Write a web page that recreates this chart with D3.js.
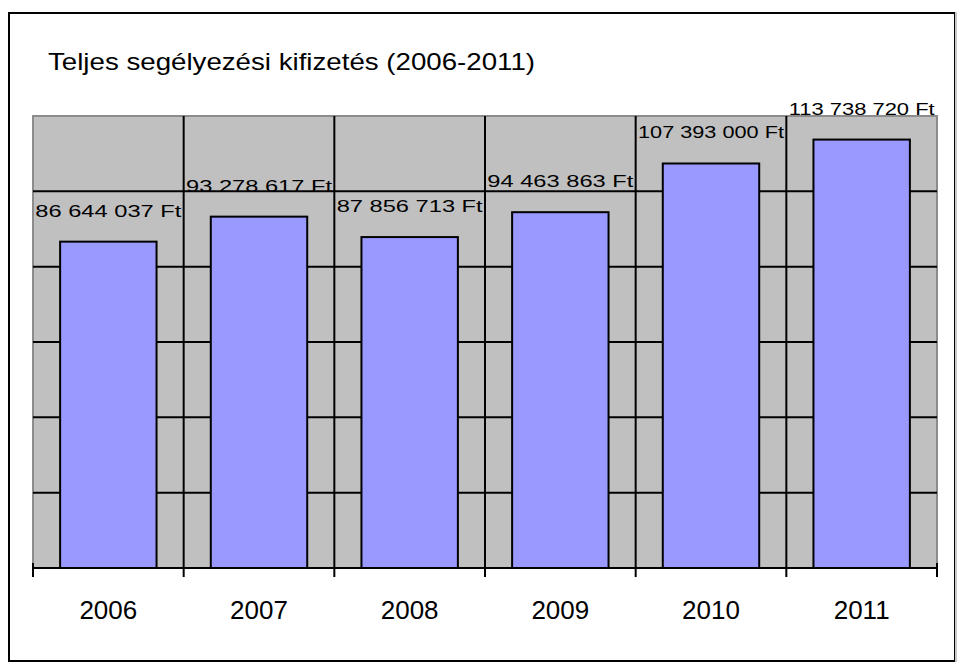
<!DOCTYPE html>
<html>
<head>
<meta charset="utf-8">
<script src="https://cdn.jsdelivr.net/npm/d3@7"></script>
<style>
  body { margin: 0; background: #fff; }
  text { font-family: "Liberation Sans", Arial, sans-serif; fill: #000; }
</style>
</head>
<body>
<svg id="chart" width="958" height="666"></svg>
<script>
// chart data
var years = ["2006", "2007", "2008", "2009", "2010", "2011"]
var values = [86644037, 93278617, 87856713, 94463863, 107393000, 113738720]
var yTicks = [20000000, 40000000, 60000000, 80000000, 100000000]
var yMax = 120000000
var title = "Teljes segélyezési kifizetés (2006-2011)"

var svg = d3.select("#chart")

var plot = {left: 33, right: 937, top: 116, bottom: 568}

var x = d3.scaleBand()
        .domain(years)
        .range([plot.left, plot.right])
        .padding(0)

var y = d3.scaleLinear()
        .domain([0, yMax])
        .range([plot.bottom, plot.top])

var fmt = d3.format(",")
var label = v => fmt(v).replace(/,/g, " ") + "  Ft"

// outer frame
svg.append("rect")
  .attr("x", 9).attr("y", 13)
  .attr("width", 946).attr("height", 648)
  .attr("fill", "#fff")
  .attr("stroke", "#000")
  .attr("stroke-width", 2)
svg.append("line")
  .attr("x1", 956).attr("x2", 956)
  .attr("y1", 12).attr("y2", 662)
  .attr("stroke", "#c8c8c8")
  .attr("stroke-width", 2)

// title
svg.append("text")
  .attr("x", 48).attr("y", 70)
  .attr("font-size", 24)
  .attr("textLength", 487)
  .attr("lengthAdjust", "spacingAndGlyphs")
  .text(title)

// plot area background
svg.append("rect")
  .attr("x", plot.left).attr("y", plot.top)
  .attr("width", plot.right - plot.left)
  .attr("height", plot.bottom - plot.top)
  .attr("fill", "#c0c0c0")
  .attr("stroke", "#8c8c8c")
  .attr("stroke-width", 2)

// horizontal gridlines
svg.append("g")
  .selectAll("line")
  .data(yTicks)
  .join("line")
  .attr("x1", plot.left).attr("x2", plot.right)
  .attr("y1", d => y(d)).attr("y2", d => y(d))
  .attr("stroke", "#000")
  .attr("stroke-width", 2)

// vertical category separators
var bounds = years.map(d => x(d)).concat([x(years[years.length - 1]) + x.bandwidth()])
svg.append("g")
  .selectAll("line")
  .data(bounds.slice(1, -1))
  .join("line")
  .attr("x1", d => d).attr("x2", d => d)
  .attr("y1", plot.top).attr("y2", plot.bottom)
  .attr("stroke", "#000")
  .attr("stroke-width", 2)

// bars
var barW = x.bandwidth() * 0.64
svg.append("g")
  .selectAll("rect")
  .data(values)
  .join("rect")
  .attr("x", (d, i) => x(years[i]) + (x.bandwidth() - barW) / 2)
  .attr("y", d => y(d))
  .attr("width", barW)
  .attr("height", d => plot.bottom - y(d))
  .attr("fill", "#9999ff")
  .attr("stroke", "#000")
  .attr("stroke-width", 2)

// x axis line + ticks
svg.append("line")
  .attr("x1", plot.left).attr("x2", plot.right)
  .attr("y1", plot.bottom).attr("y2", plot.bottom)
  .attr("stroke", "#000")
  .attr("stroke-width", 2)

svg.append("g")
  .selectAll("line")
  .data(bounds)
  .join("line")
  .attr("x1", d => d).attr("x2", d => d)
  .attr("y1", (d, i) => (i == 0 || i == bounds.length - 1) ? plot.bottom - 5 : plot.bottom)
  .attr("y2", plot.bottom + 9)
  .attr("stroke", "#000")
  .attr("stroke-width", 2)

// category labels
svg.append("g")
  .selectAll("text")
  .data(years)
  .join("text")
  .attr("x", d => x(d) + x.bandwidth() / 2)
  .attr("y", 619)
  .attr("text-anchor", "middle")
  .attr("font-size", 26)
  .text(d => d)

// value labels
svg.append("g")
  .selectAll("text")
  .data(values)
  .join("text")
  .attr("x", (d, i) => x(years[i]) + x.bandwidth() / 2)
  .attr("y", d => y(d) - 25)
  .attr("text-anchor", "middle")
  .attr("font-size", 17)
  .attr("textLength", 146)
  .attr("lengthAdjust", "spacingAndGlyphs")
  .text(d => label(d))
</script>
</body>
</html>
